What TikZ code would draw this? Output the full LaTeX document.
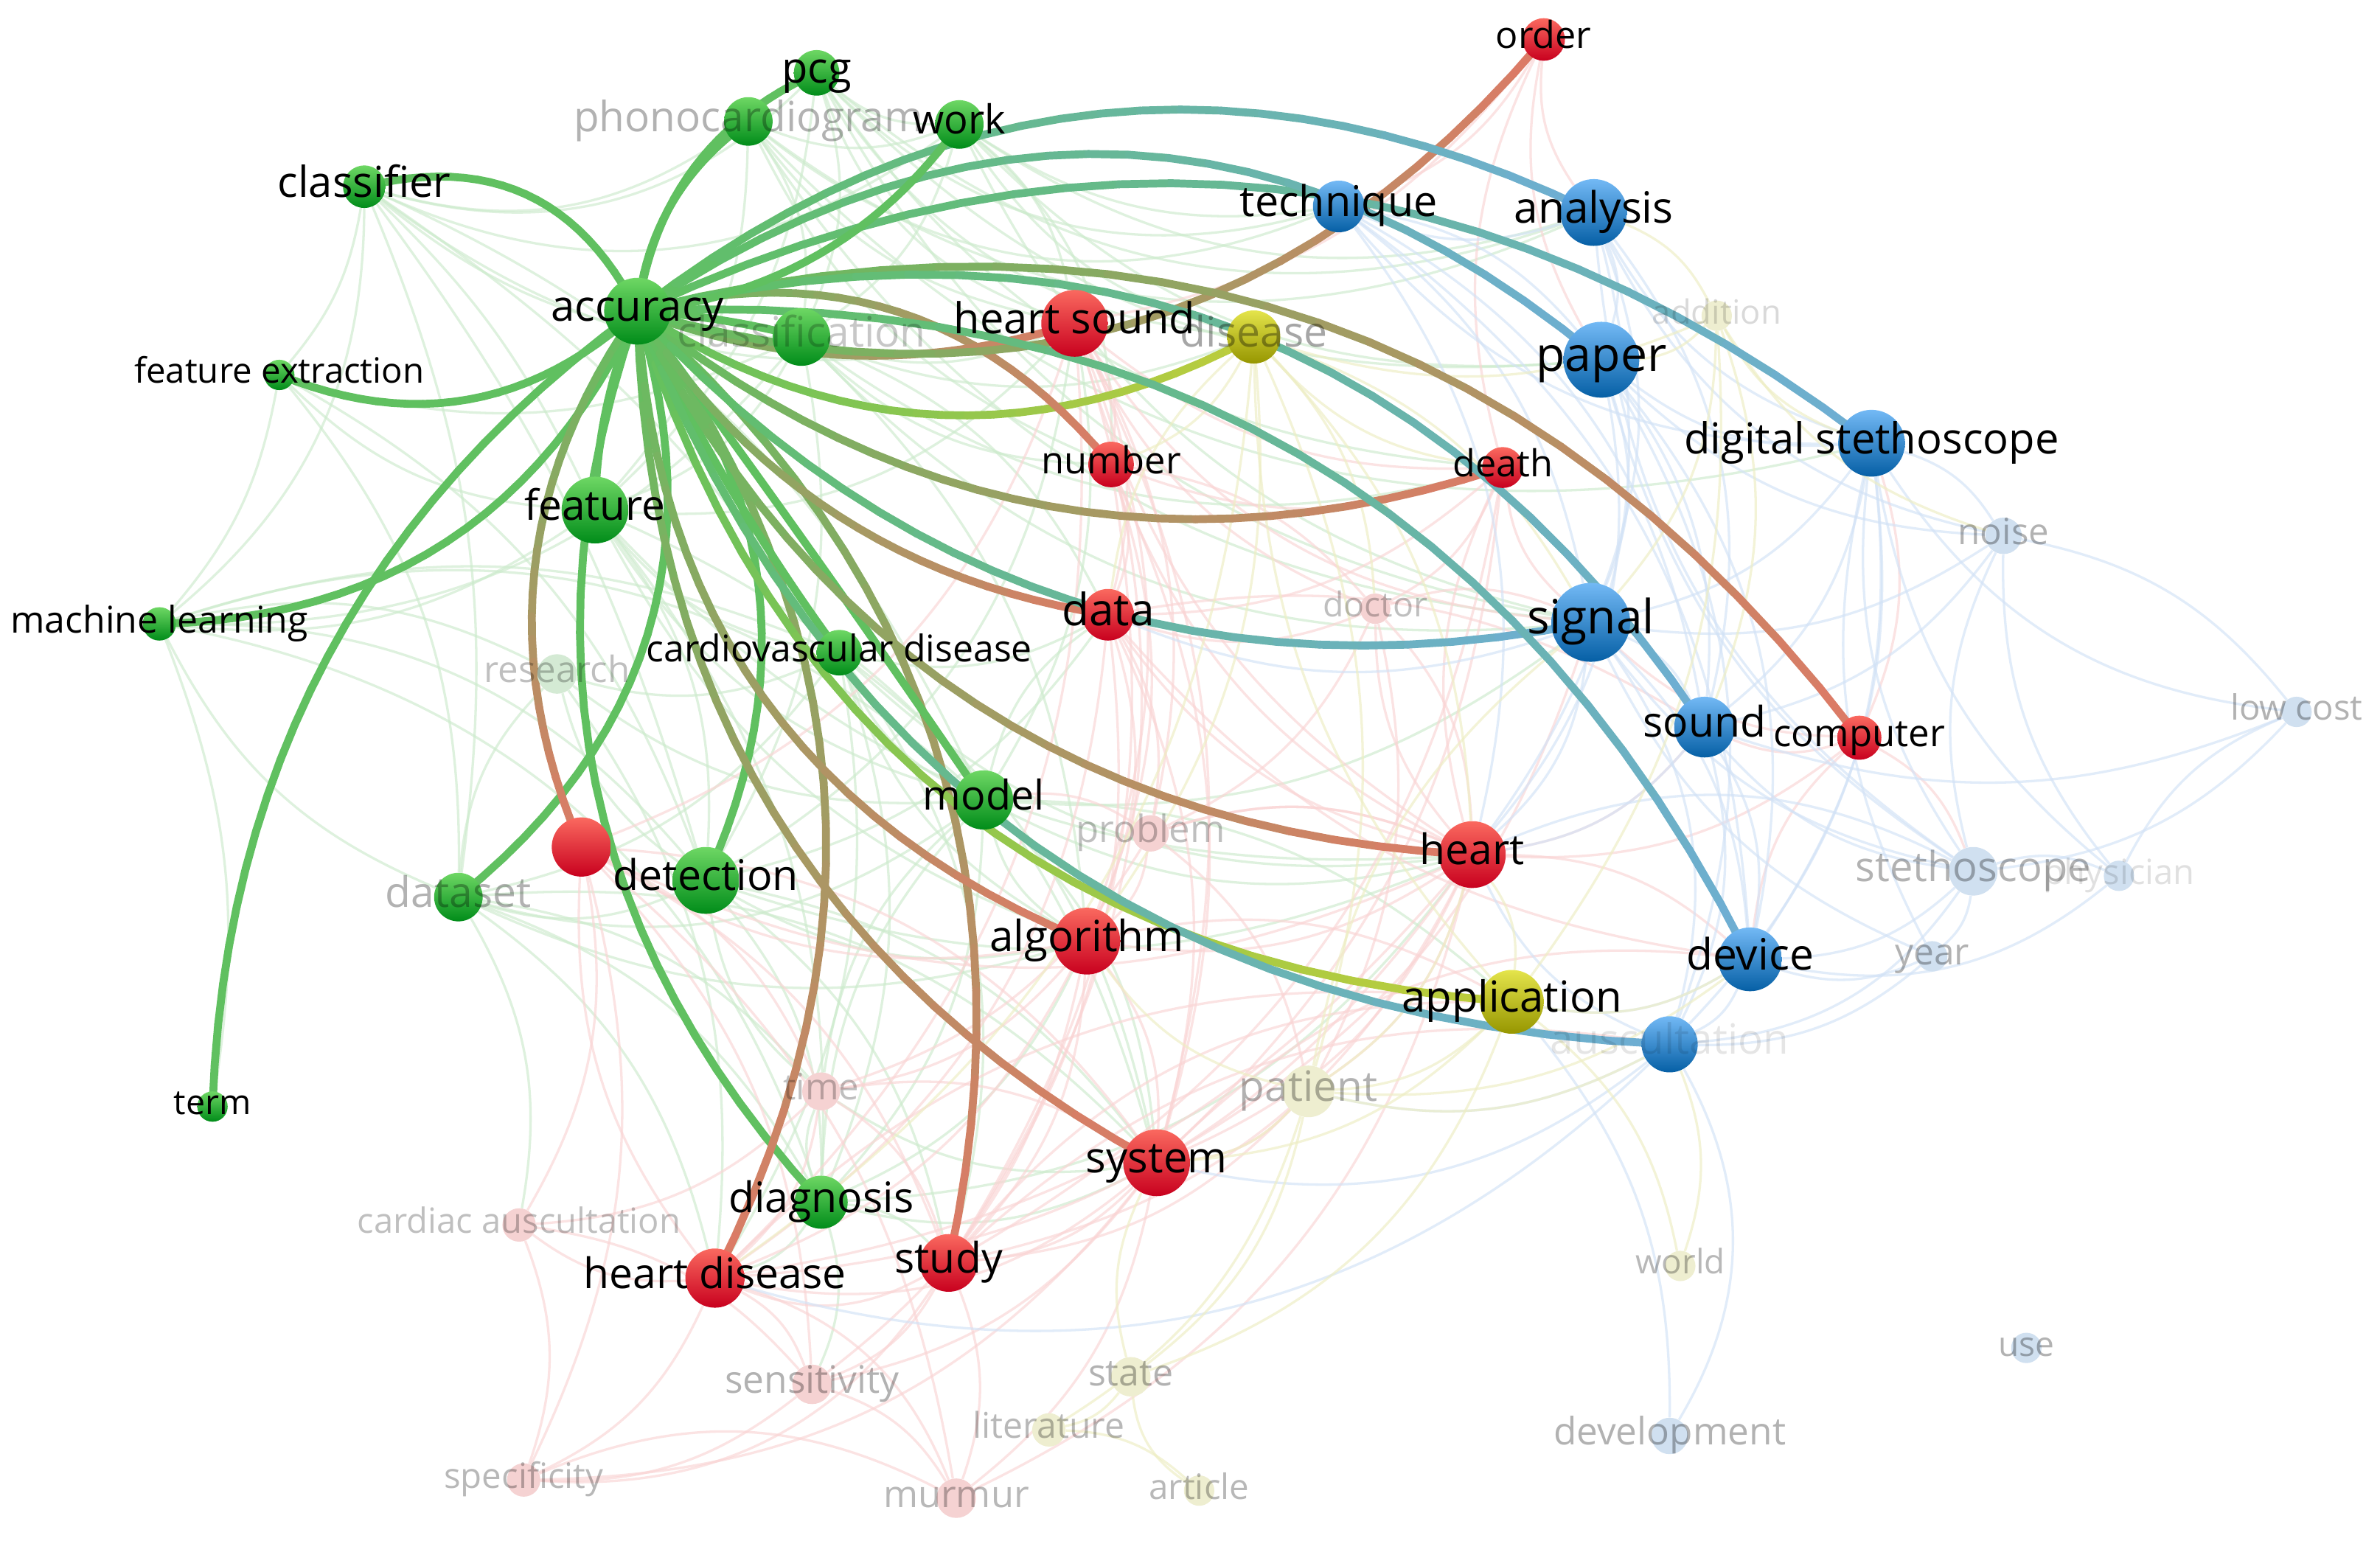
\documentclass[tikz,border=0pt]{standalone}
\usepackage{fontspec}
\setmainfont{Open Sans}
\usepackage{graphicx}
\usetikzlibrary{calc}
\definecolor{EG}{RGB}{96,192,96}
\definecolor{ER}{RGB}{222,122,102}
\definecolor{EB}{RGB}{110,174,212}
\definecolor{EY}{RGB}{190,205,60}
\definecolor{GT}{RGB}{110,215,100}\definecolor{GB}{RGB}{0,140,25}
\definecolor{RT}{RGB}{250,105,95}\definecolor{RB}{RGB}{200,0,30}
\definecolor{BT}{RGB}{115,185,245}\definecolor{BB}{RGB}{5,95,165}
\definecolor{YT}{RGB}{228,228,75}\definecolor{YB}{RGB}{150,150,0}
\definecolor{FGN}{RGB}{212,234,212}\definecolor{FRN}{RGB}{245,210,210}
\definecolor{FBN}{RGB}{208,224,240}\definecolor{FYN}{RGB}{238,238,208}
\definecolor{FG}{RGB}{205,235,205}\definecolor{FR}{RGB}{250,212,212}
\definecolor{FB}{RGB}{210,226,246}\definecolor{FY}{RGB}{238,238,195}
\pgfdeclarelayer{bg}\pgfdeclarelayer{faint}\pgfdeclarelayer{hl}
\pgfsetlayers{bg,faint,hl,main}
\tikzset{
 kw/.style={circle, inner sep=0pt, draw=none},
 gn/.style={kw, top color=GT, bottom color=GB},
 rn/.style={kw, top color=RT, bottom color=RB},
 bn/.style={kw, top color=BT, bottom color=BB},
 yn/.style={kw, top color=YT, bottom color=YB},
 fgn/.style={kw, fill=FGN}, frn/.style={kw, fill=FRN},
 fbn/.style={kw, fill=FBN}, fyn/.style={kw, fill=FYN},
 lab/.style={inner sep=0pt, text=black},
 faint/.style={line width=1.6pt, opacity=0.65},
 cg/.style={draw=FG}, cr/.style={draw=FR}, cb/.style={draw=FB}, cy/.style={draw=FY},
 hl/.style={line width=5.2pt, line cap=round},
}
\newcommand\klab[3]{\node[lab] (l-#1) at (#1) {\resizebox{#2pt}{!}{\strut #3}};}
\newcommand\kfade[4]{\node[lab, text opacity=#4] (l-#1) at (#1) {\resizebox{#2pt}{!}{\strut #3}};}
\newcommand\hedge[4]{%
  \path ($(#1)!0.5!(#2)$) coordinate (hm);
  \path ($(hm)!#3!90:(#2)$) coordinate (hc);
  \foreach \i in {1,...,24}{%
    \pgfmathsetmacro\ta{(\i-1)/24}%
    \pgfmathsetmacro\tb{\i/24}%
    \pgfmathsetmacro\pc{100-100*(\i-0.5)/24}%
    \path ($(#1)!\ta!(hc)$) coordinate (pa1) ($(hc)!\ta!(#2)$) coordinate (pa2)
          ($(#1)!\tb!(hc)$) coordinate (pb1) ($(hc)!\tb!(#2)$) coordinate (pb2);
    \draw[hl, color=EG!\pc!#4] ($(pa1)!\ta!(pa2)$) -- ($(pb1)!\tb!(pb2)$);
  }}
\begin{document}
\begin{tikzpicture}[x=1pt,y=-1pt]
\useasboundingbox (0,0) rectangle (1568,1015);
\begin{pgfonlayer}{bg}
\fill[white] (0,0) rectangle (1568,1015);
\end{pgfonlayer}
% ---------- nodes ----------
\node[gn,minimum size=44pt] (acc) at (420,205) {};
\node[gn,minimum size=30pt] (pcg) at (538,48) {};
\node[gn,minimum size=32pt] (phono) at (493,80) {};
\node[gn,minimum size=32pt] (work) at (632,82) {};
\node[gn,minimum size=28pt] (clf) at (240,123) {};
\node[gn,minimum size=20pt] (fext) at (184,247) {};
\node[gn,minimum size=38pt] (clsn) at (528,222) {};
\node[gn,minimum size=44pt] (feat) at (392,336) {};
\node[gn,minimum size=22pt] (ml) at (105,411) {};
\node[gn,minimum size=30pt] (cvd) at (553,430) {};
\node[gn,minimum size=39pt] (model) at (648,527) {};
\node[gn,minimum size=32pt] (dset) at (302,591) {};
\node[gn,minimum size=44pt] (det) at (465,580) {};
\node[gn,minimum size=20pt] (term) at (140,729) {};
\node[gn,minimum size=35pt] (diag) at (541,792) {};
\node[fgn,minimum size=26pt] (res) at (367,444) {};
\node[rn,minimum size=28pt] (order) at (1017,26) {};
\node[rn,minimum size=44pt] (hs) at (708,213) {};
\node[rn,minimum size=30pt] (num) at (732,306) {};
\node[rn,minimum size=27pt] (death) at (990,308) {};
\node[rn,minimum size=34pt] (data) at (730,405) {};
\node[rn,minimum size=39pt] (rx) at (383,558) {};
\node[rn,minimum size=44pt] (heart) at (970,563) {};
\node[rn,minimum size=44pt] (alg) at (716,620) {};
\node[rn,minimum size=44pt] (sys) at (762,766) {};
\node[rn,minimum size=39pt] (hd) at (471,842) {};
\node[rn,minimum size=38pt] (study) at (625,832) {};
\node[rn,minimum size=29pt] (comp) at (1225,486) {};
\node[frn,minimum size=20pt] (doc) at (906,401) {};
\node[frn,minimum size=24pt] (prob) at (758,549) {};
\node[frn,minimum size=25pt] (time) at (541,719) {};
\node[frn,minimum size=22pt] (cardaus) at (342,807) {};
\node[frn,minimum size=26pt] (sens) at (535,912) {};
\node[frn,minimum size=22pt] (spec) at (345,975) {};
\node[frn,minimum size=26pt] (murmur) at (630,987) {};
\node[yn,minimum size=35pt] (dis) at (826,222) {};
\node[yn,minimum size=42pt] (app) at (996,660) {};
\node[fyn,minimum size=20pt] (add) at (1131,208) {};
\node[fyn,minimum size=34pt] (pat) at (862,719) {};
\node[fyn,minimum size=20pt] (world) at (1107,834) {};
\node[fyn,minimum size=26pt] (state) at (745,907) {};
\node[fyn,minimum size=22pt] (lit) at (691,942) {};
\node[fyn,minimum size=20pt] (art) at (790,982) {};
\node[bn,minimum size=34pt] (tech) at (882,136) {};
\node[bn,minimum size=44pt] (anal) at (1050,140) {};
\node[bn,minimum size=50pt] (paper) at (1055,237) {};
\node[bn,minimum size=44pt] (dst) at (1233,292) {};
\node[bn,minimum size=52pt] (sig) at (1048,410) {};
\node[bn,minimum size=40pt] (snd) at (1123,479) {};
\node[bn,minimum size=42pt] (dev) at (1153,632) {};
\node[bn,minimum size=37pt] (aus) at (1100,688) {};
\node[fbn,minimum size=24pt] (noise) at (1320,353) {};
\node[fbn,minimum size=20pt] (lowc) at (1513,469) {};
\node[fbn,minimum size=32pt] (steth) at (1300,574) {};
\node[fbn,minimum size=20pt] (phys) at (1396,577) {};
\node[fbn,minimum size=20pt] (year) at (1273,630) {};
\node[fbn,minimum size=20pt] (use) at (1335,888) {};
\node[fbn,minimum size=24pt] (devel) at (1100,946) {};
% ---------- faint links ----------
\begin{pgfonlayer}{faint}
\foreach \a/\b/\c/\d in {
clf/pcg/cg/-30, clf/phono/cg/-25, clf/work/cg/-30, clf/fext/cg/15, clf/ml/cg/25, clf/dset/cg/15, clf/feat/cg/10, clf/clsn/cg/-20, clf/det/cg/10, clf/model/cg/20, clf/hs/cg/-25, clf/cvd/cg/10,
fext/feat/cg/-20, fext/ml/cg/15, fext/dset/cg/20, fext/clsn/cg/-20, fext/det/cg/20,
ml/dset/cg/-20, ml/feat/cg/-20, ml/res/cg/20, ml/det/cg/25, ml/cvd/cg/20, ml/clsn/cg/-25, ml/model/cg/30, ml/diag/cg/30, ml/term/cg/15,
pcg/work/cg/-20, pcg/clsn/cg/20, pcg/hs/cg/-25, pcg/tech/cg/-30, pcg/anal/cg/-30, pcg/paper/cg/-25, pcg/sig/cg/-25, pcg/feat/cg/20, pcg/dis/cg/-25,
phono/work/cg/-20, phono/tech/cg/-30, phono/sig/cg/-25, phono/hs/cg/-20, phono/clsn/cg/20, phono/feat/cg/20, phono/dst/cg/-30, phono/anal/cg/-30,
work/tech/cg/-20, work/paper/cg/-25, work/anal/cg/-25, work/hs/cg/20, work/clsn/cg/20, work/sig/cg/-25, work/dis/cg/-20,
dset/det/cg/-20, dset/model/cg/-25, dset/diag/cg/20, dset/hd/cg/20, dset/alg/cg/-20, dset/cardaus/cg/20, dset/cvd/cg/-20, dset/res/cg/20, dset/sys/cg/25, dset/time/cg/20,
feat/det/cg/20, feat/model/cg/-20, feat/clsn/cg/-20, feat/cvd/cg/-20, feat/diag/cg/20, feat/alg/cg/-20,
res/det/cg/-20, res/hd/cg/20, res/model/cg/-20, res/cvd/cg/-20,
cvd/model/cg/-20, cvd/diag/cg/20, cvd/hd/cg/20, cvd/data/cg/-20, cvd/heart/cg/-25,
model/diag/cg/20, model/alg/cg/-20, model/data/cg/20, model/sig/cg/-20, model/sys/cg/20,
det/diag/cg/20, det/alg/cg/-20, det/sys/cg/20, det/hs/cg/-25, det/heart/cg/-20,
diag/hd/cg/20, diag/sys/cg/-20, diag/study/cg/20, diag/time/cg/20, diag/sens/cg/20, diag/heart/cg/-25,
clsn/hs/cg/-20, clsn/alg/cg/20, clsn/sig/cg/-25, clsn/det/cg/20, clsn/data/cg/20,
clsn/num/cg/-20, clsn/death/cg/-25, clsn/dis/cg/-20, phono/num/cg/-20, work/num/cg/25, pcg/death/cg/-25,
feat/hs/cg/-25, feat/sys/cg/25, feat/heart/cg/-25, cvd/sys/cg/20, cvd/study/cg/25, cvd/alg/cg/-20, diag/alg/cg/-20, diag/model/cg/20,
det/data/cg/-20, det/study/cg/20, model/heart/cg/-20, model/app/cg/20, model/hs/cg/-20, time/det/cg/20, time/sys/cg/-20, time/model/cg/20,
hs/num/cr/20, hs/death/cr/-20, hs/data/cr/20, hs/heart/cr/-20, hs/alg/cr/20, hs/sys/cr/20, hs/study/cr/25, hs/sig/cr/-25, hs/doc/cr/-20, hs/hd/cr/25, hs/rx/cr/25, hs/prob/cr/20,
num/data/cr/20, num/heart/cr/-20, num/study/cr/20, num/sys/cr/20, num/alg/cr/20, num/death/cr/-20, num/doc/cr/20,
death/heart/cr/-20, death/data/cr/20, death/study/cr/25, death/sig/cr/-20, death/doc/cr/20, death/sys/cr/20,
data/heart/cr/-20, data/sys/cr/20, data/alg/cr/20, data/prob/cr/20, data/study/cr/20, data/doc/cr/-20, data/hd/cr/25, data/snd/cr/20, data/dev/cr/-20,
rx/hd/cr/-20, rx/sys/cr/25, rx/alg/cr/-20, rx/sens/cr/20, rx/spec/cr/20, rx/time/cr/20, rx/heart/cr/-25, rx/study/cr/20, rx/cardaus/cr/20, rx/murmur/cr/20,
heart/sys/cr/20, heart/alg/cr/20, heart/study/cr/25, heart/hd/cr/25, heart/doc/cr/-20, heart/pat/cr/20, heart/prob/cr/-20, heart/murmur/cr/25, heart/dev/cr/20, heart/snd/cr/-20,
alg/sys/cr/20, alg/study/cr/20, alg/hd/cr/20, alg/prob/cr/-20, alg/time/cr/20, alg/sens/cr/20, alg/app/cr/20,
sys/hd/cr/25, sys/study/cr/20, sys/pat/cr/-20, sys/sens/cr/20, sys/murmur/cr/20, sys/spec/cr/25, sys/time/cr/-20, sys/dev/cr/25, sys/sig/cr/-20,
hd/study/cr/-25, hd/sens/cr/20, hd/spec/cr/20, hd/murmur/cr/25, hd/cardaus/cr/20, hd/time/cr/-20, hd/app/cr/25, hd/heart/cr/-20,
study/murmur/cr/20, study/sens/cr/20, study/time/cr/-20, study/pat/cr/-20, study/spec/cr/30, study/app/cr/25, study/aus/cr/25,
cardaus/spec/cr/20, cardaus/time/cr/-20, cardaus/sens/cr/20, sens/spec/cr/20, sens/murmur/cr/20, spec/murmur/cr/25,
doc/pat/cr/20, doc/prob/cr/20, prob/time/cr/20, prob/pat/cr/20, doc/sig/cr/20, doc/heart/cr/-20, prob/heart/cr/20, prob/model/cr/-20,
order/tech/cr/20, order/anal/cr/-20, order/hs/cr/20, order/death/cr/-20, order/paper/cr/-20,
comp/snd/cr/20, comp/heart/cr/20, comp/dev/cr/-20, comp/sig/cr/20, comp/dst/cr/-20, comp/steth/cr/20,
tech/anal/cb/-20, tech/paper/cb/20, tech/sig/cb/20, tech/dst/cb/-25, tech/snd/cb/25, tech/dev/cb/25,
anal/paper/cb/20, anal/dst/cb/-20, anal/sig/cb/20, anal/noise/cb/-25, anal/snd/cb/25, anal/steth/cb/-25,
paper/dst/cb/-20, paper/sig/cb/20, paper/snd/cb/20, paper/dev/cb/25, paper/steth/cb/-20, paper/aus/cb/25, paper/noise/cb/-20,
dst/noise/cb/20, dst/sig/cb/20, dst/snd/cb/20, dst/steth/cb/-20, dst/dev/cb/20, dst/lowc/cb/-25, dst/year/cb/-20, dst/aus/cb/25, dst/phys/cb/-20,
sig/snd/cb/20, sig/dev/cb/20, sig/aus/cb/25, sig/steth/cb/-20, sig/noise/cb/-20, sig/heart/cb/20, sig/data/cb/20, sig/year/cb/-20,
snd/dev/cb/20, snd/steth/cb/-20, snd/aus/cb/20, snd/heart/cb/20, snd/noise/cb/-20,
dev/steth/cb/-20, dev/aus/cb/20, dev/year/cb/-20, dev/phys/cb/-25, dev/app/cb/20,
aus/steth/cb/-25, aus/devel/cb/30, aus/pat/cb/20, aus/sys/cb/25, aus/heart/cb/20, aus/year/cb/-20, aus/hd/cb/30,
steth/phys/cb/20, steth/noise/cb/20, steth/lowc/cb/-20, steth/year/cb/20, steth/heart/cb/-25,
noise/lowc/cb/20, noise/phys/cb/-20, app/devel/cb/20, paper/heart/cb/25, anal/heart/cb/25, tech/heart/cb/25, lowc/snd/cb/20, lowc/phys/cb/-20,
dis/app/cy/-20, dis/pat/cy/20, dis/add/cy/-20, app/pat/cy/20, app/world/cy/20, app/state/cy/25, pat/state/cy/20, pat/lit/cy/20, state/lit/cy/20, state/art/cy/-25, lit/art/cy/20, app/heart/cy/-20, app/sys/cy/20, app/dev/cy/-20, add/paper/cy/20, add/app/cy/20, pat/sys/cy/20, pat/heart/cy/-20, world/aus/cy/-20, dis/heart/cy/20, dis/hd/cy/25, add/dst/cy/-20, pat/aus/cy/-20, state/sys/cy/20, dis/alg/cy/20,
pat/alg/cy/20, pat/dev/cy/-20, pat/sig/cy/20, dis/sig/cy/20, dis/data/cy/-20, dis/num/cy/20, dis/death/cy/-20, dis/doc/cy/20, add/sig/cy/20, add/anal/cy/-20, add/snd/cy/20, add/noise/cy/-20}
 {\draw[faint,\c] (\a) to[bend left=\d] (\b);}
\end{pgfonlayer}
% ---------- highlighted links of accuracy ----------
\begin{pgfonlayer}{hl}
\hedge{acc}{clf}{-0.8}{EG}
\hedge{acc}{fext}{0.63}{EG}
\hedge{acc}{ml}{0.62}{EG}
\hedge{acc}{term}{-0.49}{EG}
\hedge{acc}{dset}{0.68}{EG}
\hedge{acc}{feat}{-0.2}{EG}
\hedge{acc}{det}{0.61}{EG}
\hedge{acc}{diag}{-0.6}{EG}
\hedge{acc}{rx}{-0.56}{ER}
\hedge{acc}{hd}{0.61}{ER}
\hedge{acc}{study}{0.59}{ER}
\hedge{acc}{sys}{-0.58}{ER}
\hedge{acc}{alg}{-0.63}{ER}
\hedge{acc}{cvd}{-0.1}{EG}
\hedge{acc}{model}{0.02}{EG}
\hedge{acc}{app}{-0.68}{EY}
\hedge{acc}{aus}{-0.65}{EB}
\hedge{acc}{heart}{-0.58}{ER}
\hedge{acc}{data}{-0.45}{ER}
\hedge{acc}{sig}{-0.56}{EB}
\hedge{acc}{death}{-0.54}{ER}
\hedge{acc}{dis}{-0.59}{EY}
\hedge{acc}{num}{0.64}{ER}
\hedge{acc}{hs}{-0.35}{ER}
\hedge{acc}{clsn}{0.1}{EG}
\hedge{acc}{order}{-0.65}{ER}
\hedge{acc}{comp}{0.66}{ER}
\hedge{acc}{snd}{0.7}{EB}
\hedge{acc}{dev}{0.65}{EB}
\hedge{acc}{dst}{0.61}{EB}
\hedge{acc}{paper}{0.75}{EB}
\hedge{acc}{anal}{0.62}{EB}
\hedge{acc}{work}{-0.45}{EG}
\hedge{acc}{phono}{0.45}{EG}
\hedge{acc}{pcg}{0.55}{EG}
\end{pgfonlayer}
% ---------- labels ----------
\kfade{phono}{230}{phonocardiogram}{0.3}
\kfade{clsn}{164}{classification}{0.22}
\kfade{res}{96}{research}{0.25}
\kfade{dset}{96}{dataset}{0.3}
\kfade{doc}{69}{doctor}{0.25}
\kfade{prob}{98}{problem}{0.25}
\kfade{time}{50}{time}{0.25}
\kfade{cardaus}{213}{cardiac auscultation}{0.25}
\kfade{sens}{115}{sensitivity}{0.3}
\kfade{spec}{105}{specificity}{0.28}
\kfade{murmur}{96}{murmur}{0.28}
\kfade{dis}{97}{disease}{0.35}
\kfade{add}{85}{addition}{0.15}
\kfade{pat}{91}{patient}{0.3}
\kfade{world}{59}{world}{0.28}
\kfade{state}{56}{state}{0.3}
\kfade{lit}{100}{literature}{0.28}
\kfade{art}{66}{article}{0.28}
\kfade{aus}{157}{auscultation}{0.1}
\kfade{noise}{60}{noise}{0.3}
\kfade{lowc}{87}{low cost}{0.3}
\kfade{phys}{100}{physician}{0.12}
\kfade{steth}{155}{stethoscope}{0.3}
\kfade{year}{49}{year}{0.3}
\kfade{use}{37}{use}{0.3}
\kfade{devel}{153}{development}{0.3}
\klab{acc}{114}{accuracy}
\klab{pcg}{46}{pcg}
\klab{work}{61}{work}
\klab{clf}{114}{classifier}
\klab{fext}{191}{feature extraction}
\klab{feat}{93}{feature}
\klab{ml}{196}{machine learning}
\klab{cvd}{254}{cardiovascular disease}
\klab{model}{80}{model}
\klab{det}{122}{detection}
\klab{term}{51}{term}
\klab{diag}{122}{diagnosis}
\klab{order}{63}{order}
\klab{hs}{159}{heart sound}
\klab{num}{92}{number}
\klab{death}{66}{death}
\klab{data}{61}{data}
\klab{heart}{69}{heart}
\klab{alg}{128}{algorithm}
\klab{sys}{93}{system}
\klab{hd}{173}{heart disease}
\klab{study}{71}{study}
\klab{comp}{113}{computer}
\klab{app}{145}{application}
\klab{tech}{130}{technique}
\klab{anal}{105}{analysis}
\klab{paper}{86}{paper}
\klab{dst}{247}{digital stethoscope}
\klab{sig}{84}{signal}
\klab{snd}{81}{sound}
\klab{dev}{84}{device}
\end{tikzpicture}
\end{document}
